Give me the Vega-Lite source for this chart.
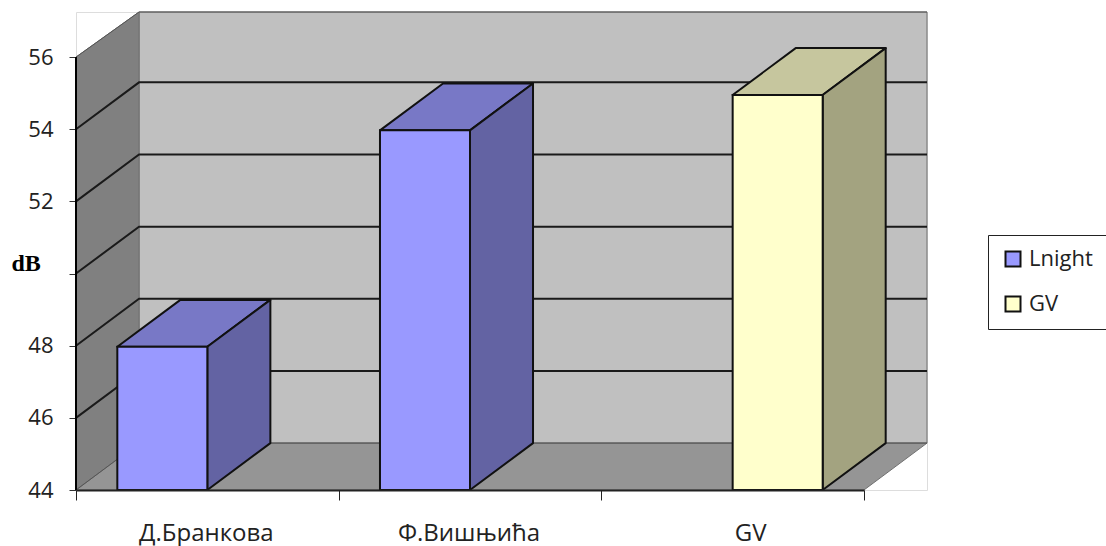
{
"$schema":"https://vega.github.io/schema/vega-lite/v6.json",
"width":851,"height":478,"autosize":{"type":"none"},
"padding":{"left":76,"top":12,"right":179,"bottom":56},
"background":"white",
"datasets":{
"bars":[
{"category":"Д.Бранкова","series":"Lnight","dB":47.97},
{"category":"Ф.Вишњића","series":"Lnight","dB":53.97},
{"category":"GV","series":"GV","dB":54.95}],
"grid":[
{"level":46,"u":0,"dB":46},{"level":46,"u":0.24,"dB":47.3},{"level":46,"u":3.24,"dB":47.3},
{"level":48,"u":0,"dB":48},{"level":48,"u":0.24,"dB":49.3},{"level":48,"u":3.24,"dB":49.3},
{"level":50,"u":0,"dB":50},{"level":50,"u":0.24,"dB":51.3},{"level":50,"u":3.24,"dB":51.3},
{"level":52,"u":0,"dB":52},{"level":52,"u":0.24,"dB":53.3},{"level":52,"u":3.24,"dB":53.3},
{"level":54,"u":0,"dB":54},{"level":54,"u":0.24,"dB":55.3},{"level":54,"u":3.24,"dB":55.3}],
"edges":[
{"level":44,"u":0,"dB":44},{"level":44,"u":0.24,"dB":45.3},{"level":44,"u":3.24,"dB":45.3},
{"level":56,"u":0,"dB":56},{"level":56,"u":0.24,"dB":57.25},{"level":56,"u":3.24,"dB":57.25}],
"walls":[
{"part":"back","face":"back","u":0.24,"low":45.3,"high":57.25},{"part":"back","face":"back","u":3.24,"low":45.3,"high":57.25},
{"part":"side wall","face":"side wall","u":0,"low":44,"high":56},{"part":"side wall","face":"side wall","u":0.24,"low":45.3,"high":57.25},
{"part":"floor","face":"floor","u":0,"low":44,"high":44},{"part":"floor","face":"floor","u":0.24,"low":44,"high":45.3},{"part":"floor","face":"floor","u":3,"low":44,"high":45.3},{"part":"floor","face":"floor","u":3.24,"low":45.3,"high":45.3}],
"faces":[
{"part":"Lnight top","face":"t1","u":0.1573,"low":47.97,"high":47.97},{"part":"Lnight top","face":"t1","u":0.3973,"low":47.97,"high":49.27},{"part":"Lnight top","face":"t1","u":0.5,"low":47.97,"high":49.27},{"part":"Lnight top","face":"t1","u":0.74,"low":49.27,"high":49.27},
{"part":"Lnight side","face":"s1","u":0.5,"low":44,"high":47.97},{"part":"Lnight side","face":"s1","u":0.74,"low":45.3,"high":49.27},
{"part":"Lnight top","face":"t2","u":1.1573,"low":53.97,"high":53.97},{"part":"Lnight top","face":"t2","u":1.3973,"low":53.97,"high":55.27},{"part":"Lnight top","face":"t2","u":1.5,"low":53.97,"high":55.27},{"part":"Lnight top","face":"t2","u":1.74,"low":55.27,"high":55.27},
{"part":"Lnight side","face":"s2","u":1.5,"low":44,"high":53.97},{"part":"Lnight side","face":"s2","u":1.74,"low":45.3,"high":55.27},
{"part":"GV top","face":"t3","u":2.5,"low":54.95,"high":54.95},{"part":"GV top","face":"t3","u":2.74,"low":54.95,"high":56.25},{"part":"GV top","face":"t3","u":2.8427,"low":54.95,"high":56.25},{"part":"GV top","face":"t3","u":3.0827,"low":56.25,"high":56.25},
{"part":"GV side","face":"s3","u":2.8427,"low":44,"high":54.95},{"part":"GV side","face":"s3","u":3.0827,"low":45.3,"high":56.25}]
},
"layer":[
{"layer":[
{"data":{"name":"walls"},
 "mark":{"type":"area","stroke":"#707070","strokeWidth":1},
 "encoding":{
  "x":{"field":"u","type":"quantitative","scale":{"domain":[0,3.24],"nice":false,"zero":false},
   "axis":{"orient":"bottom","title":null,"values":[0,1,2,3],"labels":false,"domain":false,"grid":false,"tickSize":10,"tickColor":"#222222","tickWidth":1,"zindex":1}},
  "y":{"field":"low","type":"quantitative","scale":{"domain":[44,57.25],"nice":false,"zero":false},
   "axis":{"title":"dB","titleAngle":0,"titleFont":"Liberation Serif","titleFontWeight":"bold","titleFontSize":24,"titleColor":"black","titleAlign":"left","titleBaseline":"alphabetic","titleX":-65,"titleY":258,
    "values":[44,46,48,50,52,54,56],"labelExpr":"datum.value==50?'':datum.label","labelFont":"Open Sans","labelFontSize":22,"labelColor":"#222222","labelPadding":16,
    "tickSize":7,"tickColor":"#333333","domain":false,"grid":false}},
  "y2":{"field":"high"},
  "fill":{"field":"part","type":"nominal","scale":{"domain":["back","side wall","floor"],"range":["#C0C0C0","#808080","#959595"]},"legend":null},
  "detail":{"field":"face"}}},
{"data":{"name":"edges"},
 "mark":{"type":"line","stroke":"#555555","strokeWidth":1},
 "encoding":{"x":{"field":"u","type":"quantitative"},"y":{"field":"dB","type":"quantitative"},"detail":{"field":"level"}}},
{"data":{"name":"grid"},
 "mark":{"type":"line","stroke":"#1a1a1a","strokeWidth":2},
 "encoding":{"x":{"field":"u","type":"quantitative"},"y":{"field":"dB","type":"quantitative"},"detail":{"field":"level"}}},
{"data":{"name":"bars"},"mark":{"type":"rule","stroke":"black","strokeWidth":2},
 "encoding":{"x":{"datum":0,"type":"quantitative"},"y":{"datum":44,"type":"quantitative"},"y2":{"datum":56}}},
{"data":{"name":"faces"},
 "mark":{"type":"area","stroke":"#111111","strokeWidth":2,"strokeJoin":"round"},
 "encoding":{"x":{"field":"u","type":"quantitative"},"y":{"field":"low","type":"quantitative"},"y2":{"field":"high"},
  "fill":{"field":"part","type":"nominal","scale":{"domain":["Lnight top","Lnight side","GV top","GV side"],"range":["#7878C6","#6363A3","#C6C69E","#A3A380"]},"legend":null},
  "detail":{"field":"face"}}}
],"resolve":{"scale":{"fill":"independent"}}},
{"data":{"name":"bars"},
 "mark":{"type":"bar","stroke":"#111111","strokeWidth":2},
 "encoding":{
  "x":{"field":"category","type":"nominal","sort":["Д.Бранкова","Ф.Вишњића","GV"],
   "scale":{"range":[0,788],"paddingInner":0.3146,"paddingOuter":0.1573},
   "axis":{"orient":"bottom","title":null,"labelAngle":0,"labelFont":"Open Sans","labelFontSize":24,"labelColor":"#222222","labelPadding":31,"ticks":false,"domainColor":"#222222","domainWidth":2,"zindex":1,
    "labelOffset":{"expr":"datum.value==='GV'?18:-1"}}},
  "xOffset":{"field":"series","type":"nominal","sort":["Lnight","GV"]},
  "y":{"field":"dB","type":"quantitative"},
  "y2":{"datum":44},
  "fill":{"field":"series","type":"nominal","scale":{"domain":["Lnight","GV"],"range":["#9999FF","#FFFFCC"]},
   "legend":{"title":null,"orient":"none","legendX":912,"legendY":223,"fillColor":"white","strokeColor":"#222222","padding":13,"symbolType":"square","symbolSize":225,"symbolOffset":1,"symbolStrokeColor":"#111111","symbolStrokeWidth":2,"symbolOpacity":1,"labelFont":"Open Sans","labelFontSize":22,"labelColor":"#222222","rowPadding":21,"labelOffset":5,"offset":0}}}}
],
"resolve":{"scale":{"x":"independent","fill":"independent"},"axis":{"x":"independent"}}
}
